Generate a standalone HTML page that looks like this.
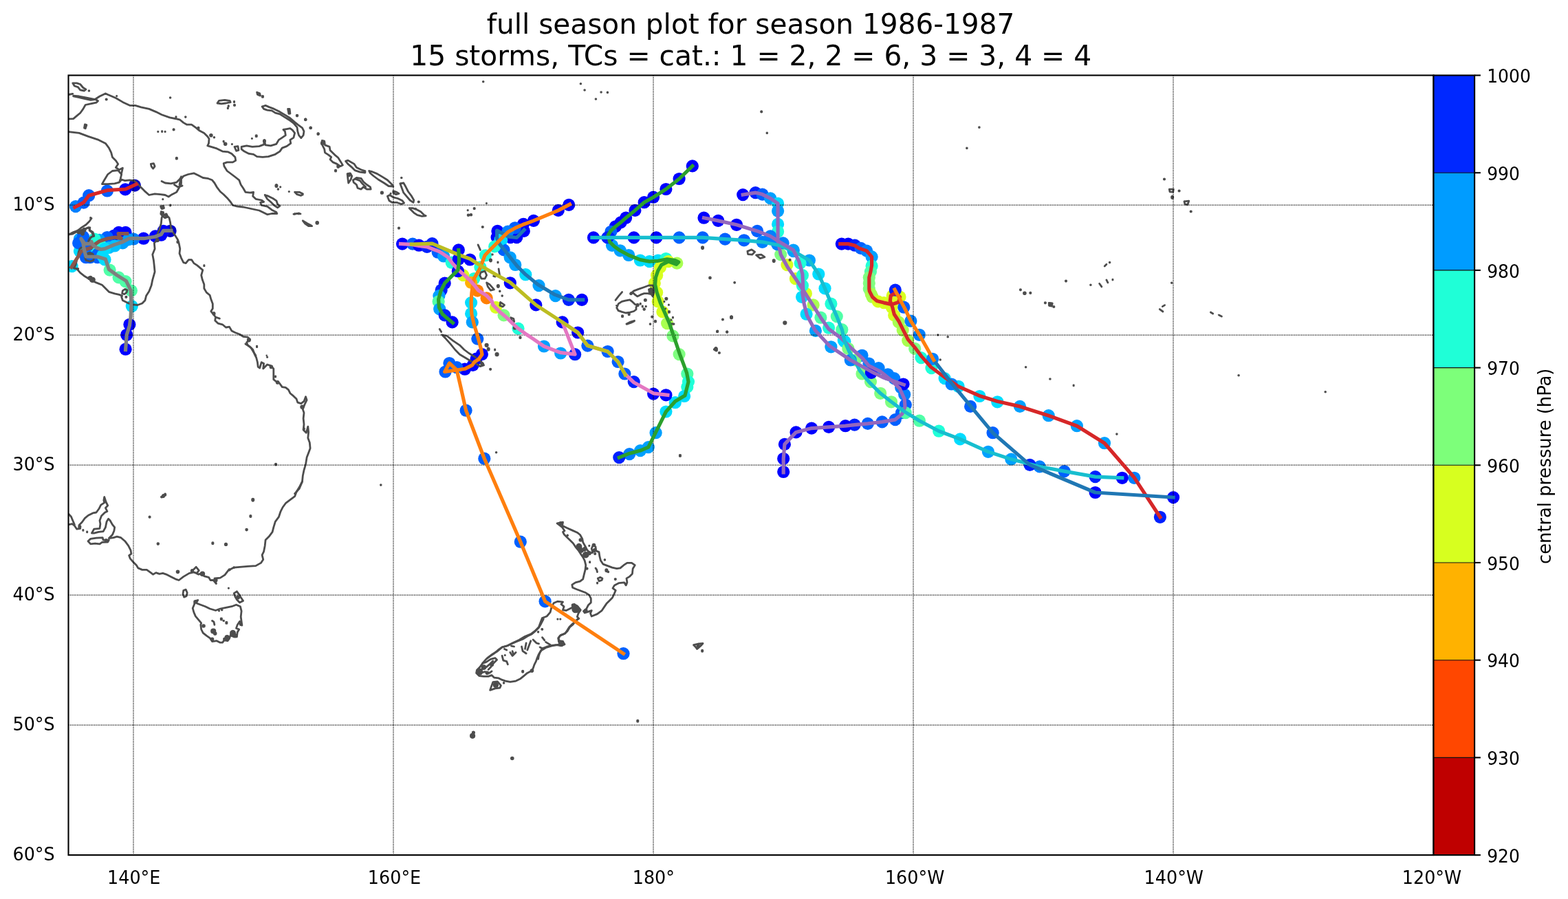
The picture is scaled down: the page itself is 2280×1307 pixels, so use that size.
<!DOCTYPE html>
<html lang="en">
<head>
<meta charset="utf-8">
<title>full season plot for season 1986-1987</title>
<style>
html,body{margin:0;padding:0;background:#fff;}
body{width:2280px;height:1307px;overflow:hidden;}
svg{display:block;}
text{font-family:"DejaVu Sans", "Liberation Sans", sans-serif;fill:#000;}
.t{font-size:41.15px;text-anchor:middle;}
.l{font-size:25.9px;}
.g{stroke:#000;stroke-width:1.25;stroke-dasharray:1.25 1.25;fill:none;}
.c{fill:none;stroke:#4d4d4d;stroke-width:2.8;stroke-linejoin:round;stroke-linecap:round;}
.k{fill:none;stroke-width:5.2;stroke-linejoin:round;stroke-linecap:square;}
</style>
</head>
<body>
<svg width="2280" height="1307" viewBox="0 0 2280 1307">
<rect x="0" y="0" width="2280" height="1307" fill="#fff"/>
<text class="t" transform="translate(1091.5 48.7) scale(0.987 1)">full season plot for season 1986-1987</text>
<text class="t" transform="translate(1091.7 94.7) scale(0.991 1)">15 storms, TCs = cat.: 1 = 2, 2 = 6, 3 = 3, 4 = 4</text>
<clipPath id="cp"><rect x="99.5" y="109.5" width="1985" height="1133.6"/></clipPath>
<g clip-path="url(#cp)">
<g><circle cx="761.8" cy="335.9" r="9.1" fill="#0000ff"/><circle cx="751.3" cy="345.1" r="9.1" fill="#0000ff"/><circle cx="742.2" cy="345.1" r="9.1" fill="#0000ff"/><circle cx="723.4" cy="335.9" r="9.1" fill="#0000ff"/><circle cx="722.6" cy="345.1" r="9.1" fill="#0000ff"/><circle cx="729.2" cy="349.2" r="9.1" fill="#00dcff"/><circle cx="732.6" cy="363.4" r="9.1" fill="#0060ff"/><circle cx="741.7" cy="374.3" r="9.1" fill="#00a0ff"/><circle cx="749.3" cy="385.0" r="9.1" fill="#00a0ff"/><circle cx="764.3" cy="399.2" r="9.1" fill="#00dcff"/><circle cx="783.5" cy="415.1" r="9.1" fill="#00a0ff"/><circle cx="807.7" cy="430.1" r="9.1" fill="#00a0ff"/><circle cx="826.9" cy="435.9" r="9.1" fill="#0020ff"/><circle cx="846.1" cy="435.9" r="9.1" fill="#0000ff"/></g>
<g><circle cx="827.2" cy="297.9" r="9.1" fill="#0000ff"/><circle cx="811.8" cy="305.9" r="9.1" fill="#0000ff"/><circle cx="775.9" cy="320.9" r="9.1" fill="#0000ff"/><circle cx="760.9" cy="325.9" r="9.1" fill="#0000ff"/><circle cx="748.8" cy="331.3" r="9.1" fill="#0060ff"/><circle cx="738.4" cy="336.7" r="9.1" fill="#0080ff"/><circle cx="727.6" cy="348.4" r="9.1" fill="#00dcff"/><circle cx="719.2" cy="358.4" r="9.1" fill="#20ffd8"/><circle cx="705.9" cy="371.3" r="9.1" fill="#20ffd8"/><circle cx="698.4" cy="388.4" r="9.1" fill="#20ffd8"/><circle cx="689.3" cy="405.1" r="9.1" fill="#20ffd8"/><circle cx="685.1" cy="440.1" r="9.1" fill="#00dcff"/><circle cx="685.1" cy="455.9" r="9.1" fill="#00dcff"/><circle cx="686.8" cy="468.4" r="9.1" fill="#00a0ff"/><circle cx="694.3" cy="492.6" r="9.1" fill="#0060ff"/><circle cx="700.9" cy="515.0" r="9.1" fill="#0000ff"/><circle cx="692.6" cy="521.7" r="9.1" fill="#0000ff"/><circle cx="687.6" cy="530.9" r="9.1" fill="#0000ff"/><circle cx="675.9" cy="536.7" r="9.1" fill="#0000ff"/><circle cx="664.2" cy="534.2" r="9.1" fill="#0060ff"/><circle cx="653.4" cy="528.0" r="9.1" fill="#0060ff"/><circle cx="647.5" cy="540.5" r="9.1" fill="#0060ff"/><circle cx="677.6" cy="596.7" r="9.1" fill="#0060ff"/><circle cx="704.3" cy="666.7" r="9.1" fill="#0060ff"/><circle cx="756.8" cy="787.7" r="9.1" fill="#0060ff"/><circle cx="792.6" cy="874.3" r="9.1" fill="#0060ff"/><circle cx="906.5" cy="950.2" r="9.1" fill="#0060ff"/></g>
<g><circle cx="1006.8" cy="241.4" r="9.1" fill="#0000ff"/><circle cx="987.6" cy="260.0" r="9.1" fill="#0000ff"/><circle cx="968.4" cy="275.0" r="9.1" fill="#0000ff"/><circle cx="950.1" cy="286.7" r="9.1" fill="#0000ff"/><circle cx="936.7" cy="294.2" r="9.1" fill="#0000ff"/><circle cx="923.4" cy="305.9" r="9.1" fill="#0000ff"/><circle cx="910.1" cy="316.7" r="9.1" fill="#0000ff"/><circle cx="902.6" cy="323.4" r="9.1" fill="#0000ff"/><circle cx="895.0" cy="329.3" r="9.1" fill="#0000ff"/><circle cx="888.4" cy="336.8" r="9.1" fill="#0060ff"/><circle cx="885.0" cy="345.1" r="9.1" fill="#0020ff"/><circle cx="890.0" cy="356.8" r="9.1" fill="#00a0ff"/><circle cx="901.7" cy="364.3" r="9.1" fill="#00a0ff"/><circle cx="914.2" cy="371.0" r="9.1" fill="#00a0ff"/><circle cx="930.9" cy="378.5" r="9.1" fill="#00dcff"/><circle cx="944.3" cy="380.1" r="9.1" fill="#00dcff"/><circle cx="956.8" cy="378.5" r="9.1" fill="#00dcff"/><circle cx="968.4" cy="376.0" r="9.1" fill="#20ffd8"/><circle cx="984.3" cy="382.6" r="9.1" fill="#a8ff50"/><circle cx="971.8" cy="380.1" r="9.1" fill="#d8ff20"/><circle cx="960.1" cy="388.5" r="9.1" fill="#d8ff20"/><circle cx="955.1" cy="400.2" r="9.1" fill="#d8ff20"/><circle cx="951.8" cy="411.8" r="9.1" fill="#d8ff20"/><circle cx="955.1" cy="425.2" r="9.1" fill="#d8ff20"/><circle cx="956.8" cy="438.4" r="9.1" fill="#d8ff20"/><circle cx="963.4" cy="453.4" r="9.1" fill="#d8ff20"/><circle cx="970.1" cy="470.1" r="9.1" fill="#a8ff50"/><circle cx="978.4" cy="488.4" r="9.1" fill="#80ff80"/><circle cx="987.6" cy="515.1" r="9.1" fill="#80ff80"/><circle cx="999.3" cy="543.5" r="9.1" fill="#50ffa8"/><circle cx="1001.0" cy="555.1" r="9.1" fill="#20ffd8"/><circle cx="999.3" cy="562.6" r="9.1" fill="#20ffd8"/><circle cx="995.1" cy="576.0" r="9.1" fill="#00dcff"/><circle cx="981.8" cy="585.2" r="9.1" fill="#00dcff"/><circle cx="968.4" cy="598.5" r="9.1" fill="#00dcff"/><circle cx="953.6" cy="629.2" r="9.1" fill="#00a0ff"/><circle cx="942.8" cy="650.1" r="9.1" fill="#00a0ff"/><circle cx="931.1" cy="655.1" r="9.1" fill="#00a0ff"/><circle cx="915.3" cy="660.1" r="9.1" fill="#0080ff"/><circle cx="900.3" cy="665.1" r="9.1" fill="#0020ff"/></g>
<g><circle cx="1223.8" cy="354.6" r="9.1" fill="#0000ff"/><circle cx="1233.4" cy="354.6" r="9.1" fill="#0000ff"/><circle cx="1243.0" cy="356.7" r="9.1" fill="#0020ff"/><circle cx="1251.7" cy="360.9" r="9.1" fill="#0060ff"/><circle cx="1260.1" cy="364.6" r="9.1" fill="#0080ff"/><circle cx="1267.6" cy="373.4" r="9.1" fill="#00a0ff"/><circle cx="1267.6" cy="386.7" r="9.1" fill="#20ffd8"/><circle cx="1265.9" cy="395.1" r="9.1" fill="#50ffa8"/><circle cx="1263.8" cy="403.4" r="9.1" fill="#80ff80"/><circle cx="1263.8" cy="411.7" r="9.1" fill="#80ff80"/><circle cx="1263.8" cy="420.1" r="9.1" fill="#80ff80"/><circle cx="1266.7" cy="427.6" r="9.1" fill="#a8ff50"/><circle cx="1268.5" cy="431.7" r="9.1" fill="#a8ff50"/><circle cx="1276.8" cy="438.4" r="9.1" fill="#d8ff20"/><circle cx="1285.2" cy="440.1" r="9.1" fill="#d8ff20"/><circle cx="1296.8" cy="442.6" r="9.1" fill="#d8ff20"/><circle cx="1308.5" cy="431.7" r="9.1" fill="#d8ff20"/><circle cx="1297.7" cy="430.0" r="9.1" fill="#d8ff20"/><circle cx="1296.8" cy="446.7" r="9.1" fill="#d8ff20"/><circle cx="1300.2" cy="458.4" r="9.1" fill="#d8ff20"/><circle cx="1306.8" cy="468.4" r="9.1" fill="#a8ff50"/><circle cx="1312.7" cy="480.1" r="9.1" fill="#a8ff50"/><circle cx="1320.2" cy="495.1" r="9.1" fill="#a8ff50"/><circle cx="1330.2" cy="506.8" r="9.1" fill="#80ff80"/><circle cx="1339.4" cy="520.1" r="9.1" fill="#20ffd8"/><circle cx="1354.4" cy="535.1" r="9.1" fill="#20ffd8"/><circle cx="1373.6" cy="550.1" r="9.1" fill="#00dcff"/><circle cx="1393.6" cy="561.8" r="9.1" fill="#00dcff"/><circle cx="1424.4" cy="576.0" r="9.1" fill="#00dcff"/><circle cx="1450.3" cy="584.3" r="9.1" fill="#00dcff"/><circle cx="1483.0" cy="590.9" r="9.1" fill="#00a0ff"/><circle cx="1524.7" cy="604.2" r="9.1" fill="#00a0ff"/><circle cx="1565.9" cy="619.2" r="9.1" fill="#00a0ff"/><circle cx="1606.0" cy="644.2" r="9.1" fill="#00a0ff"/><circle cx="1649.3" cy="694.8" r="9.1" fill="#0080ff"/><circle cx="1686.9" cy="751.8" r="9.1" fill="#0020ff"/></g>
<g><circle cx="1080.2" cy="283.1" r="9.1" fill="#0000ff"/><circle cx="1098.5" cy="280.1" r="9.1" fill="#0020ff"/><circle cx="1108.6" cy="282.6" r="9.1" fill="#0060ff"/><circle cx="1120.2" cy="288.4" r="9.1" fill="#00a0ff"/><circle cx="1131.1" cy="295.9" r="9.1" fill="#00dcff"/><circle cx="1131.1" cy="306.7" r="9.1" fill="#00a0ff"/><circle cx="1131.1" cy="325.9" r="9.1" fill="#00dcff"/><circle cx="1131.1" cy="336.8" r="9.1" fill="#20ffd8"/><circle cx="1135.2" cy="370.1" r="9.1" fill="#80ff80"/><circle cx="1144.4" cy="385.1" r="9.1" fill="#d8ff20"/><circle cx="1156.9" cy="405.2" r="9.1" fill="#d8ff20"/><circle cx="1171.9" cy="426.8" r="9.1" fill="#d8ff20"/><circle cx="1182.6" cy="443.4" r="9.1" fill="#a8ff50"/><circle cx="1193.4" cy="461.7" r="9.1" fill="#50ffa8"/><circle cx="1205.1" cy="476.7" r="9.1" fill="#20ffd8"/><circle cx="1226.8" cy="495.1" r="9.1" fill="#00dcff"/><circle cx="1253.5" cy="516.8" r="9.1" fill="#0080ff"/><circle cx="1263.5" cy="528.5" r="9.1" fill="#0080ff"/><circle cx="1277.6" cy="535.1" r="9.1" fill="#0080ff"/><circle cx="1291.0" cy="544.3" r="9.1" fill="#0080ff"/><circle cx="1300.2" cy="550.1" r="9.1" fill="#0080ff"/><circle cx="1310.2" cy="563.5" r="9.1" fill="#0080ff"/><circle cx="1315.2" cy="573.5" r="9.1" fill="#0080ff"/><circle cx="1316.8" cy="588.5" r="9.1" fill="#0060ff"/><circle cx="1311.0" cy="600.1" r="9.1" fill="#0060ff"/><circle cx="1301.8" cy="610.1" r="9.1" fill="#0060ff"/><circle cx="1282.7" cy="613.4" r="9.1" fill="#0060ff"/><circle cx="1261.8" cy="615.9" r="9.1" fill="#0060ff"/><circle cx="1242.6" cy="617.6" r="9.1" fill="#0020ff"/><circle cx="1229.3" cy="619.2" r="9.1" fill="#0000ff"/><circle cx="1205.1" cy="620.9" r="9.1" fill="#0000ff"/><circle cx="1180.1" cy="622.6" r="9.1" fill="#0000ff"/><circle cx="1157.5" cy="628.4" r="9.1" fill="#0000ff"/><circle cx="1140.9" cy="645.9" r="9.1" fill="#0000ff"/><circle cx="1139.2" cy="666.8" r="9.1" fill="#0000ff"/><circle cx="1139.2" cy="686.0" r="9.1" fill="#0000ff"/></g>
<g><circle cx="182.6" cy="337.9" r="9.1" fill="#0000ff"/><circle cx="172.6" cy="337.9" r="9.1" fill="#0000ff"/><circle cx="165.9" cy="342.5" r="9.1" fill="#0020ff"/><circle cx="155.9" cy="345.0" r="9.1" fill="#0060ff"/><circle cx="144.2" cy="348.8" r="9.1" fill="#00a0ff"/><circle cx="137.5" cy="347.5" r="9.1" fill="#20ffd8"/><circle cx="146.7" cy="357.5" r="9.1" fill="#20ffd8"/><circle cx="136.7" cy="363.4" r="9.1" fill="#20ffd8"/><circle cx="115.9" cy="365.0" r="9.1" fill="#00dcff"/><circle cx="104.6" cy="387.1" r="9.1" fill="#00dcff"/></g>
<g><circle cx="585.0" cy="354.6" r="9.1" fill="#0000ff"/><circle cx="600.0" cy="354.6" r="9.1" fill="#0060ff"/><circle cx="609.2" cy="356.7" r="9.1" fill="#0000ff"/><circle cx="620.9" cy="358.8" r="9.1" fill="#0020ff"/><circle cx="636.7" cy="366.7" r="9.1" fill="#0060ff"/><circle cx="645.1" cy="372.5" r="9.1" fill="#00a0ff"/><circle cx="656.7" cy="381.7" r="9.1" fill="#20ffd8"/><circle cx="673.4" cy="400.1" r="9.1" fill="#d8ff20"/><circle cx="685.1" cy="410.9" r="9.1" fill="#ffb000"/><circle cx="694.3" cy="422.6" r="9.1" fill="#ff8000"/><circle cx="707.6" cy="433.4" r="9.1" fill="#ff8000"/><circle cx="721.0" cy="446.8" r="9.1" fill="#d8ff20"/><circle cx="732.6" cy="458.4" r="9.1" fill="#80ff80"/><circle cx="753.5" cy="477.6" r="9.1" fill="#20ffd8"/><circle cx="791.0" cy="503.5" r="9.1" fill="#00a0ff"/><circle cx="815.2" cy="513.5" r="9.1" fill="#00a0ff"/><circle cx="836.1" cy="515.2" r="9.1" fill="#0020ff"/><circle cx="817.7" cy="468.4" r="9.1" fill="#0000ff"/><circle cx="921.7" cy="555.1" r="9.1" fill="#0020ff"/><circle cx="950.1" cy="572.6" r="9.1" fill="#0000ff"/><circle cx="968.4" cy="574.3" r="9.1" fill="#0000ff"/></g>
<g><circle cx="247.6" cy="335.8" r="9.1" fill="#0000c8"/><circle cx="237.6" cy="335.8" r="9.1" fill="#0000ff"/><circle cx="234.3" cy="341.7" r="9.1" fill="#0000ff"/><circle cx="225.9" cy="343.4" r="9.1" fill="#0000ff"/><circle cx="208.8" cy="346.7" r="9.1" fill="#0000ff"/><circle cx="194.2" cy="347.5" r="9.1" fill="#0080ff"/><circle cx="186.7" cy="348.4" r="9.1" fill="#00a0ff"/><circle cx="178.4" cy="353.4" r="9.1" fill="#00a0ff"/><circle cx="166.7" cy="357.5" r="9.1" fill="#00c0ff"/><circle cx="158.4" cy="360.0" r="9.1" fill="#00c0ff"/><circle cx="152.5" cy="361.7" r="9.1" fill="#00dcff"/><circle cx="115.9" cy="347.5" r="9.1" fill="#00a0ff"/><circle cx="120.9" cy="344.2" r="9.1" fill="#0060ff"/><circle cx="114.2" cy="353.4" r="9.1" fill="#0060ff"/><circle cx="125.0" cy="374.2" r="9.1" fill="#0060ff"/><circle cx="130.9" cy="374.2" r="9.1" fill="#0060ff"/><circle cx="141.7" cy="374.2" r="9.1" fill="#0060ff"/><circle cx="142.5" cy="369.2" r="9.1" fill="#0060ff"/><circle cx="127.5" cy="356.7" r="9.1" fill="#0060ff"/><circle cx="152.5" cy="377.5" r="9.1" fill="#00dcff"/><circle cx="149.2" cy="371.7" r="9.1" fill="#00dcff"/><circle cx="159.6" cy="392.6" r="9.1" fill="#50ffa8"/><circle cx="172.6" cy="403.4" r="9.1" fill="#50ffa8"/><circle cx="182.6" cy="409.2" r="9.1" fill="#50ffa8"/><circle cx="190.9" cy="422.6" r="9.1" fill="#50ffa8"/><circle cx="191.8" cy="445.1" r="9.1" fill="#00dcff"/><circle cx="188.4" cy="471.8" r="9.1" fill="#0000ff"/><circle cx="184.2" cy="486.8" r="9.1" fill="#0000ff"/><circle cx="182.6" cy="507.7" r="9.1" fill="#0000ff"/></g>
<g><circle cx="628.4" cy="354.2" r="9.1" fill="#0020ff"/><circle cx="683.4" cy="377.5" r="9.1" fill="#0000ff"/><circle cx="741.8" cy="411.3" r="9.1" fill="#0000ff"/><circle cx="779.3" cy="443.4" r="9.1" fill="#0000ff"/><circle cx="840.2" cy="483.5" r="9.1" fill="#0000ff"/><circle cx="854.4" cy="502.6" r="9.1" fill="#0060ff"/><circle cx="883.6" cy="511.0" r="9.1" fill="#0060ff"/><circle cx="898.6" cy="526.0" r="9.1" fill="#0060ff"/><circle cx="908.4" cy="543.5" r="9.1" fill="#0060ff"/></g>
<g><circle cx="863.0" cy="345.4" r="9.1" fill="#0000ff"/><circle cx="883.4" cy="345.4" r="9.1" fill="#0020ff"/><circle cx="921.7" cy="345.4" r="9.1" fill="#0000ff"/><circle cx="954.3" cy="345.4" r="9.1" fill="#0000ff"/><circle cx="987.6" cy="345.4" r="9.1" fill="#0060ff"/><circle cx="1021.8" cy="345.4" r="9.1" fill="#0060ff"/><circle cx="1054.3" cy="347.6" r="9.1" fill="#0060ff"/><circle cx="1081.9" cy="349.3" r="9.1" fill="#0060ff"/><circle cx="1108.6" cy="351.8" r="9.1" fill="#0080ff"/><circle cx="1130.2" cy="355.1" r="9.1" fill="#0080ff"/><circle cx="1153.6" cy="365.1" r="9.1" fill="#00a0ff"/><circle cx="1176.9" cy="378.5" r="9.1" fill="#00a0ff"/><circle cx="1190.3" cy="398.5" r="9.1" fill="#00dcff"/><circle cx="1199.5" cy="419.3" r="9.1" fill="#00dcff"/><circle cx="1208.4" cy="441.7" r="9.1" fill="#20ffd8"/><circle cx="1216.8" cy="460.1" r="9.1" fill="#50ffa8"/><circle cx="1224.3" cy="479.2" r="9.1" fill="#50ffa8"/><circle cx="1228.4" cy="496.8" r="9.1" fill="#00dcff"/><circle cx="1233.4" cy="506.8" r="9.1" fill="#80ff80"/><circle cx="1243.5" cy="523.5" r="9.1" fill="#80ff80"/><circle cx="1253.5" cy="543.5" r="9.1" fill="#80ff80"/><circle cx="1266.0" cy="555.1" r="9.1" fill="#80ff80"/><circle cx="1280.2" cy="571.8" r="9.1" fill="#80ff80"/><circle cx="1296.0" cy="584.3" r="9.1" fill="#80ff80"/><circle cx="1316.8" cy="600.1" r="9.1" fill="#50ffa8"/><circle cx="1336.9" cy="611.7" r="9.1" fill="#50ffa8"/><circle cx="1365.2" cy="626.7" r="9.1" fill="#20ffd8"/><circle cx="1396.1" cy="638.4" r="9.1" fill="#00dcff"/><circle cx="1436.9" cy="656.8" r="9.1" fill="#00a0ff"/><circle cx="1470.3" cy="667.6" r="9.1" fill="#00a0ff"/><circle cx="1511.7" cy="678.4" r="9.1" fill="#0080ff"/><circle cx="1547.6" cy="685.1" r="9.1" fill="#0060ff"/><circle cx="1592.6" cy="693.1" r="9.1" fill="#0020ff"/><circle cx="1631.8" cy="694.8" r="9.1" fill="#0000ff"/></g>
<g><circle cx="1383.6" cy="558.5" r="9.1" fill="#0080ff"/><circle cx="1411.1" cy="590.9" r="9.1" fill="#0060ff"/><circle cx="1443.6" cy="629.2" r="9.1" fill="#0060ff"/><circle cx="1497.5" cy="675.9" r="9.1" fill="#0020ff"/><circle cx="1592.6" cy="716.0" r="9.1" fill="#0000ff"/><circle cx="1706.1" cy="723.1" r="9.1" fill="#0000ff"/></g>
<g><circle cx="1301.8" cy="421.7" r="9.1" fill="#0020ff"/><circle cx="1314.3" cy="446.7" r="9.1" fill="#0060ff"/><circle cx="1324.4" cy="466.7" r="9.1" fill="#0080ff"/><circle cx="1336.9" cy="486.8" r="9.1" fill="#0080ff"/><circle cx="1356.0" cy="521.8" r="9.1" fill="#0080ff"/></g>
<g><circle cx="666.8" cy="363.4" r="9.1" fill="#0000ff"/><circle cx="666.8" cy="376.7" r="9.1" fill="#0000ff"/><circle cx="665.9" cy="394.2" r="9.1" fill="#0000ff"/><circle cx="646.7" cy="411.7" r="9.1" fill="#0000ff"/><circle cx="641.7" cy="421.7" r="9.1" fill="#0020ff"/><circle cx="638.4" cy="430.1" r="9.1" fill="#00a0ff"/><circle cx="637.6" cy="438.4" r="9.1" fill="#50ffa8"/><circle cx="639.2" cy="449.3" r="9.1" fill="#00a0ff"/><circle cx="646.7" cy="458.4" r="9.1" fill="#0020ff"/><circle cx="657.6" cy="468.4" r="9.1" fill="#0000ff"/></g>
<g><circle cx="110.0" cy="300.1" r="9.1" fill="#0080ff"/><circle cx="121.7" cy="294.6" r="9.1" fill="#0060ff"/><circle cx="129.2" cy="284.2" r="9.1" fill="#0060ff"/><circle cx="155.9" cy="277.5" r="9.1" fill="#0060ff"/><circle cx="182.2" cy="275.4" r="9.1" fill="#0000ff"/><circle cx="195.9" cy="269.6" r="9.1" fill="#0000c8"/></g>
<g><circle cx="1023.5" cy="316.7" r="9.1" fill="#0000ff"/><circle cx="1044.3" cy="320.9" r="9.1" fill="#0000ff"/><circle cx="1071.0" cy="326.8" r="9.1" fill="#0000ff"/><circle cx="1101.1" cy="335.9" r="9.1" fill="#0060ff"/><circle cx="1120.2" cy="343.4" r="9.1" fill="#0080ff"/><circle cx="1138.6" cy="353.4" r="9.1" fill="#0080ff"/><circle cx="1153.6" cy="363.5" r="9.1" fill="#00a0ff"/><circle cx="1163.6" cy="382.6" r="9.1" fill="#20ffd8"/><circle cx="1166.9" cy="400.2" r="9.1" fill="#20ffd8"/><circle cx="1166.9" cy="415.2" r="9.1" fill="#20ffd8"/><circle cx="1166.1" cy="431.8" r="9.1" fill="#00dcff"/><circle cx="1172.6" cy="456.7" r="9.1" fill="#00dcff"/><circle cx="1185.9" cy="480.9" r="9.1" fill="#00a0ff"/><circle cx="1208.4" cy="504.3" r="9.1" fill="#00a0ff"/><circle cx="1236.8" cy="523.5" r="9.1" fill="#0080ff"/><circle cx="1266.8" cy="541.8" r="9.1" fill="#0000ff"/><circle cx="1313.5" cy="558.5" r="9.1" fill="#0000ff"/></g>
<g class="c">
<path d="M100.0 172.9L106.7 172.6L111.7 168.4L116.7 164.2L120.9 158.4L124.2 152.5L131.7 150.9L140.0 149.2L142.5 146.7L138.4 144.2L145.0 140.0L153.4 135.9L156.7 137.5L168.4 142.5L178.4 148.4L189.2 153.4L196.8 153.4L205.1 155.9L216.8 158.4L226.8 162.6L235.1 166.7L246.8 170.9L256.8 172.9L261.8 174.2L266.8 178.4L271.8 181.2L278.5 181.2L285.2 185.9L290.2 190.1L296.8 193.4L301.8 198.4L304.0 201.8L303.5 208.4L301.8 211.8L306.8 213.4L315.2 215.9L323.5 220.1L331.9 220.9L336.9 223.4L341.9 228.4L342.7 233.4L338.5 235.9L330.2 235.9L325.2 237.6L326.0 241.8L330.2 248.5L336.9 253.5L343.5 258.5L347.7 261.8L350.2 268.5L353.6 273.5L356.9 279.3L363.6 280.2L368.6 279.3L367.7 285.2L371.9 289.3L380.2 291.0L383.6 293.5L378.6 294.3L380.2 298.5L388.6 300.2L395.3 305.2L401.9 308.5L402.8 310.5L395.3 310.5L388.6 311.8L383.6 309.3L376.9 306.0L365.2 303.5L353.6 301.0L345.2 300.2L338.5 298.5L335.2 293.5L330.2 287.7L325.2 282.7L320.2 278.5L315.2 271.8L311.9 266.0L308.5 261.8L301.8 259.3L295.2 258.5L288.5 255.1L281.8 251.8L273.5 253.5L266.8 256.0L263.5 260.1L263.5 266.8L260.1 273.5L256.8 279.3L250.1 282.7L245.1 286.0L240.1 283.5L233.5 282.7L225.1 281.8L216.8 283.5L210.1 277.6L205.1 272.6L200.1 266.8L195.1 262.6L188.4 261.8L181.7 262.6L176.7 261.0L173.4 265.1L166.7 266.8L156.7 267.6L148.4 267.6L151.7 261.8L156.7 253.5L163.4 248.5L171.7 247.6L176.7 253.5L175.1 260.1L173.4 265.1"/>
<path d="M100.0 191.7L115.0 193.4L128.4 198.4L143.4 203.4L153.4 208.4L158.4 215.1L161.7 221.8L163.4 228.4L168.4 233.4L171.7 238.4L168.4 243.5L173.4 246.8L178.4 244.3L176.7 251.8"/>
<path d="M235.1 263.5L240.1 266.0L248.5 266.8L256.8 265.1L261.8 260.1L263.5 256.8L261.0 268.5L265.1 270.1L258.5 271.8L253.5 268.5"/>
<path d="M105.8 120.9L111.7 120.9L116.7 122.5L120.9 127.5L125.0 130.0L122.5 132.0L116.7 130.9L113.4 126.7L108.3 125.0L105.8 120.9"/>
<path d="M100.0 137.5L105.8 136.4"/>
<path d="M106.7 139.2L115.0 140.0L123.4 141.7L133.4 143.7L138.4 144.7L131.7 145.4L123.4 143.7L115.0 141.7L106.7 140.0L106.7 139.2"/>
<path d="M316.0 150.0L318.5 146.4L326.9 145.4L334.4 146.7L335.2 148.7L328.5 150.0L321.9 150.9L316.0 150.0"/>
<path d="M381.1 155.0L386.1 153.4L391.9 155.9L398.6 158.4L406.9 162.6L415.3 167.6L421.9 171.7L428.6 177.6L433.6 181.7L439.5 185.9L442.0 190.9L441.1 196.7L437.8 200.6L434.5 196.7L432.8 190.9L432.0 185.1L426.9 179.2L420.3 174.2L413.6 170.1L406.9 165.9L400.3 164.2L395.3 160.9L388.6 160.1L383.6 158.4L381.1 155.0"/>
<path d="M351.1 213.4L358.6 211.8L366.9 213.4L376.9 212.6L383.6 210.1L384.4 205.1L386.1 210.9L393.6 211.8L401.9 209.3L405.3 203.4L410.3 200.1L415.3 196.7L414.4 190.9L411.9 188.4L416.9 187.6L421.9 186.7L425.3 189.2L428.6 193.4L426.9 200.1L421.9 203.4L422.8 208.4L416.9 212.6L410.3 215.1L406.9 220.1L400.3 224.3L390.3 227.6L381.9 228.4L373.6 227.6L368.6 224.3L361.9 223.4L355.2 220.1L351.1 216.8L351.1 213.4"/>
<path d="M385.2 283.5L390.3 285.2L396.9 288.5L401.9 291.8L403.6 296.8L406.9 299.3L403.6 301.8L398.6 298.5L393.6 293.5L388.6 289.3L385.2 283.5"/>
<path d="M428.6 279.3L435.3 279.3L440.3 281.8L437.8 284.3L432.0 282.7L428.6 279.3"/>
<path d="M341.0 213.4L346.0 212.6L346.9 218.4L343.5 219.3L341.0 213.4"/>
<path d="M219.3 238.4L223.4 237.6L225.1 241.8L222.6 245.1L220.1 241.8L219.3 238.4"/>
<path d="M418.6 158.4L421.1 158.4L421.9 165.1L419.9 165.4L418.6 158.4"/>
<path d="M123.4 180.9L125.9 181.7L124.2 186.7L122.5 185.9L123.4 180.9"/>
<path d="M373.6 134.2L377.7 135.9L378.6 139.2L374.4 137.5L373.6 134.2"/>
<path d="M233.5 300.2L237.6 299.3L238.5 302.7L235.1 303.5L233.5 300.2"/>
<path d="M234.3 307.7L237.6 308.5L236.8 312.7L241.8 311.8L244.3 315.2L240.1 316.8L236.8 314.3L233.8 311.0L234.3 307.7"/>
<path d="M127.6 132.0a1.8 1.8 0 1 0 3.6 0a1.8 1.8 0 1 0 -3.6 0zM168.1 139.5a1.6 1.6 0 1 0 3.2 0a1.6 1.6 0 1 0 -3.2 0zM152.6 144.5a2.1 2.1 0 1 0 4.2 0a2.1 2.1 0 1 0 -4.2 0zM245.8 142.0a1.8 1.8 0 1 0 3.6 0a1.8 1.8 0 1 0 -3.6 0zM268.0 170.1a1.8 1.8 0 1 0 3.6 0a1.8 1.8 0 1 0 -3.6 0zM254.5 170.1a1.5 1.5 0 1 0 2.9 0a1.5 1.5 0 1 0 -2.9 0zM286.5 186.2a2.0 2.0 0 1 0 3.9 0a2.0 2.0 0 1 0 -3.9 0zM250.5 188.4a2.1 2.1 0 1 0 4.2 0a2.1 2.1 0 1 0 -4.2 0zM228.2 191.4a1.6 1.6 0 1 0 3.2 0a1.6 1.6 0 1 0 -3.2 0zM234.2 191.1a1.5 1.5 0 1 0 2.9 0a1.5 1.5 0 1 0 -2.9 0zM238.5 191.4a1.6 1.6 0 1 0 3.2 0a1.6 1.6 0 1 0 -3.2 0zM304.1 196.7a2.8 2.8 0 1 0 5.6 0a2.8 2.8 0 1 0 -5.6 0zM309.6 199.7a1.8 1.8 0 1 0 3.6 0a1.8 1.8 0 1 0 -3.6 0zM254.9 230.1a2.0 2.0 0 1 0 3.9 0a2.0 2.0 0 1 0 -3.9 0zM235.2 289.7a1.6 1.6 0 1 0 3.2 0a1.6 1.6 0 1 0 -3.2 0zM246.2 298.5a1.5 1.5 0 1 0 2.9 0a1.5 1.5 0 1 0 -2.9 0zM339.1 148.0a1.5 1.5 0 1 0 2.9 0a1.5 1.5 0 1 0 -2.9 0zM338.9 152.9a2.1 2.1 0 1 0 4.2 0a2.1 2.1 0 1 0 -4.2 0zM330.8 154.2a1.5 1.5 0 1 0 2.9 0a1.5 1.5 0 1 0 -2.9 0zM329.9 157.2a1.5 1.5 0 1 0 2.9 0a1.5 1.5 0 1 0 -2.9 0zM324.9 209.3a2.8 2.8 0 1 0 5.6 0a2.8 2.8 0 1 0 -5.6 0zM323.7 205.6a1.5 1.5 0 1 0 2.9 0a1.5 1.5 0 1 0 -2.9 0zM335.8 209.6a1.6 1.6 0 1 0 3.2 0a1.6 1.6 0 1 0 -3.2 0zM370.8 197.6a2.0 2.0 0 1 0 3.9 0a2.0 2.0 0 1 0 -3.9 0zM364.8 201.3a1.6 1.6 0 1 0 3.2 0a1.6 1.6 0 1 0 -3.2 0zM380.0 140.4a2.0 2.0 0 1 0 3.9 0a2.0 2.0 0 1 0 -3.9 0zM429.7 168.1a2.3 2.3 0 1 0 4.6 0a2.3 2.3 0 1 0 -4.6 0zM442.3 173.7a2.1 2.1 0 1 0 4.2 0a2.1 2.1 0 1 0 -4.2 0zM449.5 185.9a2.1 2.1 0 1 0 4.2 0a2.1 2.1 0 1 0 -4.2 0zM460.7 194.6a2.1 2.1 0 1 0 4.2 0a2.1 2.1 0 1 0 -4.2 0zM465.9 208.4a2.8 2.8 0 1 0 5.6 0a2.8 2.8 0 1 0 -5.6 0zM399.5 270.1a2.5 2.5 0 1 0 4.9 0a2.5 2.5 0 1 0 -4.9 0zM406.1 271.8a1.6 1.6 0 1 0 3.2 0a1.6 1.6 0 1 0 -3.2 0zM402.6 275.1a1.8 1.8 0 1 0 3.6 0a1.8 1.8 0 1 0 -3.6 0zM418.7 278.5a1.6 1.6 0 1 0 3.2 0a1.6 1.6 0 1 0 -3.2 0zM426.8 311.0a1.8 1.8 0 1 0 3.6 0a1.8 1.8 0 1 0 -3.6 0zM432.3 310.5a2.1 2.1 0 1 0 4.2 0a2.1 2.1 0 1 0 -4.2 0zM382.0 205.1a2.5 2.5 0 1 0 4.9 0a2.5 2.5 0 1 0 -4.9 0zM130.3 316.8a1.5 1.5 0 1 0 2.9 0a1.5 1.5 0 1 0 -2.9 0z" fill="#4d4d4d" stroke="none"/>
<path d="M468.4 204.3L471.7 205.1L472.5 210.9L479.2 213.4L480.0 218.4L486.7 225.1L491.7 229.3L495.9 235.9L498.4 240.1L495.0 241.8L490.0 238.4L484.2 235.9L480.0 231.8L481.7 228.4L477.5 225.1L472.5 221.8L471.7 216.8L469.2 211.8L467.5 207.6L468.4 204.3"/>
<path d="M502.6 234.3L505.9 233.1L515.1 238.4L518.4 243.5L525.1 246.8L530.9 248.5L530.9 251.0L523.4 250.1L515.9 247.6L510.9 242.6L505.9 238.4L502.6 234.3"/>
<path d="M505.1 252.6L509.2 251.8L511.7 256.0L510.1 261.0L506.7 266.0L505.9 260.1L505.1 252.6"/>
<path d="M513.4 261.8L518.4 258.5L525.1 259.3L528.4 264.3L533.4 268.5L538.4 271.8L539.2 275.1L533.4 275.1L528.4 271.8L525.1 275.1L520.1 273.5L518.4 268.5L514.2 265.1L513.4 261.8"/>
<path d="M516.7 260.1L523.4 262.6L526.7 266.8L531.7 271.8"/>
<path d="M536.7 248.5L540.1 249.3L548.4 252.6L556.8 257.6L563.4 261.8L569.3 267.6L571.8 271.0L565.1 270.5L558.4 266.0L550.1 261.0L543.4 256.0L538.4 251.8L536.7 248.5"/>
<path d="M571.8 277.6L576.8 279.3L580.1 281.5L575.9 282.7L571.8 280.2L571.8 277.6"/>
<path d="M581.8 266.8L586.8 266.0L590.1 271.8L593.5 278.5L598.5 285.2L601.8 291.0L601.0 294.3L596.0 291.0L591.0 285.2L586.8 280.2L584.3 273.5L581.8 266.8"/>
<path d="M563.4 285.2L566.8 283.5L571.8 286.8L578.4 288.5L585.1 291.8L587.6 295.2L583.5 296.8L576.8 294.3L570.1 294.3L565.9 291.8L563.4 285.2"/>
<path d="M595.1 302.7L600.1 302.7L605.1 304.3L611.8 307.7L616.8 312.7L619.3 313.8L613.5 314.3L606.8 312.7L601.8 309.3L598.5 306.0L595.1 302.7"/>
<path d="M678.7 312.8a2.3 2.3 0 1 0 4.6 0a2.3 2.3 0 1 0 -4.6 0zM682.6 312.3a2.3 2.3 0 1 0 4.6 0a2.3 2.3 0 1 0 -4.6 0zM441.9 173.9a2.3 2.3 0 1 0 4.6 0a2.3 2.3 0 1 0 -4.6 0zM449.4 185.9a2.3 2.3 0 1 0 4.6 0a2.3 2.3 0 1 0 -4.6 0zM460.6 194.6a2.0 2.0 0 1 0 3.9 0a2.0 2.0 0 1 0 -3.9 0zM489.3 241.8a2.5 2.5 0 1 0 4.9 0a2.5 2.5 0 1 0 -4.9 0zM486.1 248.1a2.0 2.0 0 1 0 3.9 0a2.0 2.0 0 1 0 -3.9 0zM582.0 258.5a1.8 1.8 0 1 0 3.6 0a1.8 1.8 0 1 0 -3.6 0zM552.8 280.2a2.6 2.6 0 1 0 5.2 0a2.6 2.6 0 1 0 -5.2 0zM566.5 281.3a1.6 1.6 0 1 0 3.2 0a1.6 1.6 0 1 0 -3.2 0zM606.7 293.5a2.1 2.1 0 1 0 4.2 0a2.1 2.1 0 1 0 -4.2 0zM700.9 118.8a1.8 1.8 0 1 0 3.6 0a1.8 1.8 0 1 0 -3.6 0zM705.8 295.5a1.6 1.6 0 1 0 3.2 0a1.6 1.6 0 1 0 -3.2 0zM687.6 303.2a2.1 2.1 0 1 0 4.2 0a2.1 2.1 0 1 0 -4.2 0zM678.6 305.7a1.6 1.6 0 1 0 3.2 0a1.6 1.6 0 1 0 -3.2 0zM438.5 282.7a1.5 1.5 0 1 0 2.9 0a1.5 1.5 0 1 0 -2.9 0zM467.6 206.8a2.5 2.5 0 1 0 4.9 0a2.5 2.5 0 1 0 -4.9 0zM505.1 254.3a2.5 2.5 0 1 0 4.9 0a2.5 2.5 0 1 0 -4.9 0zM602.5 303.5a1.8 1.8 0 1 0 3.6 0a1.8 1.8 0 1 0 -3.6 0z" fill="#4d4d4d" stroke="none"/>
<path d="M1086.9 365.2L1092.9 362.9L1097.6 366.2L1093.6 370.2L1087.6 369.6L1086.9 365.2"/>
<path d="M1099.6 370.9L1106.9 370.2L1111.9 373.6L1105.3 375.6L1099.6 370.9"/>
<path d="M842.6 121.7a1.8 1.8 0 1 0 3.6 0a1.8 1.8 0 1 0 -3.6 0zM848.3 131.0a1.8 1.8 0 1 0 3.6 0a1.8 1.8 0 1 0 -3.6 0zM872.3 134.0a1.8 1.8 0 1 0 3.6 0a1.8 1.8 0 1 0 -3.6 0zM881.6 134.4a1.8 1.8 0 1 0 3.6 0a1.8 1.8 0 1 0 -3.6 0zM864.6 144.0a1.8 1.8 0 1 0 3.6 0a1.8 1.8 0 1 0 -3.6 0zM1105.1 162.4a2.1 2.1 0 1 0 4.2 0a2.1 2.1 0 1 0 -4.2 0zM1113.5 193.4a1.8 1.8 0 1 0 3.6 0a1.8 1.8 0 1 0 -3.6 0zM1422.1 185.1a1.8 1.8 0 1 0 3.6 0a1.8 1.8 0 1 0 -3.6 0zM1404.1 215.4a1.8 1.8 0 1 0 3.6 0a1.8 1.8 0 1 0 -3.6 0zM1019.1 360.2a2.5 2.5 0 1 0 4.9 0a2.5 2.5 0 1 0 -4.9 0zM1030.4 403.9a2.1 2.1 0 1 0 4.2 0a2.1 2.1 0 1 0 -4.2 0zM1066.4 410.9a1.8 1.8 0 1 0 3.6 0a1.8 1.8 0 1 0 -3.6 0zM1049.1 464.6a1.8 1.8 0 1 0 3.6 0a1.8 1.8 0 1 0 -3.6 0zM1061.1 461.3a2.5 2.5 0 1 0 4.9 0a2.5 2.5 0 1 0 -4.9 0zM1138.2 469.3a3.1 3.1 0 1 0 6.2 0a3.1 3.1 0 1 0 -6.2 0zM1041.1 481.7a2.1 2.1 0 1 0 4.2 0a2.1 2.1 0 1 0 -4.2 0zM1055.1 482.7a2.1 2.1 0 1 0 4.2 0a2.1 2.1 0 1 0 -4.2 0zM1036.8 508.0a1.8 1.8 0 1 0 3.6 0a1.8 1.8 0 1 0 -3.6 0zM1040.1 509.7a1.8 1.8 0 1 0 3.6 0a1.8 1.8 0 1 0 -3.6 0zM1043.8 513.0a2.1 2.1 0 1 0 4.2 0a2.1 2.1 0 1 0 -4.2 0zM1547.9 408.6a2.1 2.1 0 1 0 4.2 0a2.1 2.1 0 1 0 -4.2 0zM1481.8 421.3a2.1 2.1 0 1 0 4.2 0a2.1 2.1 0 1 0 -4.2 0zM1487.1 426.3a2.8 2.8 0 1 0 5.6 0a2.8 2.8 0 1 0 -5.6 0zM1496.2 425.9a2.1 2.1 0 1 0 4.2 0a2.1 2.1 0 1 0 -4.2 0zM1517.8 440.3a2.1 2.1 0 1 0 4.2 0a2.1 2.1 0 1 0 -4.2 0zM1524.2 442.6a3.1 3.1 0 1 0 6.2 0a3.1 3.1 0 1 0 -6.2 0zM1530.2 446.0a2.1 2.1 0 1 0 4.2 0a2.1 2.1 0 1 0 -4.2 0zM1362.0 487.0a1.8 1.8 0 1 0 3.6 0a1.8 1.8 0 1 0 -3.6 0zM1376.4 489.7a1.8 1.8 0 1 0 3.6 0a1.8 1.8 0 1 0 -3.6 0zM1365.4 523.0a1.8 1.8 0 1 0 3.6 0a1.8 1.8 0 1 0 -3.6 0zM1489.8 533.7a1.8 1.8 0 1 0 3.6 0a1.8 1.8 0 1 0 -3.6 0zM1122.8 379.2a2.5 2.5 0 1 0 4.9 0a2.5 2.5 0 1 0 -4.9 0zM1146.5 377.9a2.1 2.1 0 1 0 4.2 0a2.1 2.1 0 1 0 -4.2 0z" fill="#4d4d4d" stroke="none"/>
<path d="M100.0 340.9L106.7 337.5L113.4 335.0L118.4 330.9L125.0 326.7L130.0 321.7L133.0 317.5"/>
<path d="M115.0 335.9L121.7 333.4L129.2 330.9L130.9 335.0L135.0 337.5L136.7 342.5L131.7 345.0L129.2 350.0"/>
<path d="M105.0 388.4L111.7 390.9L116.7 396.7L123.4 401.8L130.0 405.9L140.0 410.9L148.4 414.3L153.4 419.3L158.4 424.3L166.7 426.8L173.4 428.4L177.6 430.1L176.7 431.8L178.4 436.8L185.1 440.1L191.8 442.6L200.1 443.5L206.8 441.0L210.9 436.8L212.6 430.1L216.8 423.4L220.1 415.1L221.8 406.8L225.1 395.1L224.3 386.7L223.4 378.4L221.8 370.1L225.1 361.7L224.3 353.4L228.4 348.4L228.4 341.7L231.8 333.4L234.3 325.0L235.1 316.7L236.8 312.5L241.8 313.3L246.0 316.7L247.6 323.4L248.5 330.0L250.1 335.9L254.3 341.7L258.5 348.4L260.1 353.4L261.8 361.7L261.0 368.4L263.5 375.1L266.8 381.7L270.2 382.6L274.3 377.6L278.5 377.6L281.8 382.6L286.8 385.9L291.8 390.1L294.8 392.6L292.7 400.1L294.3 406.8L296.8 413.4L296.8 419.3L300.2 425.1L305.2 429.3L306.8 435.1L309.3 441.8L309.3 448.5L306.8 452.6L310.2 456.8L313.5 461.0L312.7 466.0L316.9 470.1L323.5 471.8L328.5 476.0L333.5 475.1L336.9 481.0L341.9 483.5L348.5 486.0L353.6 489.3L360.2 490.2L363.6 493.5L358.6 497.7L360.2 501.8L365.2 506.0L368.6 511.8L371.9 516.8"/>
<path d="M177.6 426.8L178.4 422.6L181.7 420.4L185.1 421.8L184.2 425.1L180.9 427.6L177.6 426.8"/>
<path d="M440.3 320.9L447.0 325.0L452.0 327.5L453.6 328.7L448.6 328.7L443.6 325.0L440.3 320.9"/>
<path d="M313.5 461.0L319.4 463.1"/>
<path d="M426.9 311.3L432.0 310.3L437.0 310.8"/>
<path d="M233.5 301.7a2.5 2.5 0 1 0 4.9 0a2.5 2.5 0 1 0 -4.9 0zM233.2 310.3a2.8 2.8 0 1 0 5.6 0a2.8 2.8 0 1 0 -5.6 0zM239.0 312.5a2.5 2.5 0 1 0 4.9 0a2.5 2.5 0 1 0 -4.9 0zM295.4 386.2a1.5 1.5 0 1 0 2.9 0a1.5 1.5 0 1 0 -2.9 0zM372.1 504.0a1.5 1.5 0 1 0 2.9 0a1.5 1.5 0 1 0 -2.9 0zM458.4 323.9a2.8 2.8 0 1 0 5.6 0a2.8 2.8 0 1 0 -5.6 0zM386.4 516.8a1.3 1.3 0 1 0 2.6 0a1.3 1.3 0 1 0 -2.6 0zM130.1 406.8a4.1 4.1 0 1 0 8.2 0a4.1 4.1 0 1 0 -8.2 0zM127.2 404.3a2.8 2.8 0 1 0 5.6 0a2.8 2.8 0 1 0 -5.6 0zM226.8 349.2a2.5 2.5 0 1 0 4.9 0a2.5 2.5 0 1 0 -4.9 0zM256.5 351.7a2.0 2.0 0 1 0 3.9 0a2.0 2.0 0 1 0 -3.9 0zM308.6 456.0a2.5 2.5 0 1 0 4.9 0a2.5 2.5 0 1 0 -4.9 0zM111.6 390.9a1.8 1.8 0 1 0 3.6 0a1.8 1.8 0 1 0 -3.6 0zM181.3 431.8a2.1 2.1 0 1 0 4.2 0a2.1 2.1 0 1 0 -4.2 0zM358.8 494.3a3.1 3.1 0 1 0 6.2 0a3.1 3.1 0 1 0 -6.2 0z" fill="#4d4d4d" stroke="none"/>
<path d="M356.9 500.0L363.6 504.2L367.7 508.3L370.2 515.0L372.7 520.0L374.4 526.7L375.2 533.4L377.7 535.0L380.2 526.7L383.6 528.4L382.7 535.9L388.6 530.0L393.6 531.7L397.8 535.9L397.8 543.4L397.8 551.7L401.9 555.0L406.1 556.7L410.3 562.6L415.3 563.4L419.4 566.7L421.9 571.7L426.9 575.9L431.1 580.1L432.8 585.1L437.8 586.7L442.0 583.4L444.5 576.7L446.1 581.7L442.8 588.4L440.3 595.1L442.0 600.1L441.1 608.4L442.0 616.8L441.1 625.1L445.3 629.3L447.8 620.1L448.6 628.4L447.8 636.8L450.3 643.5L451.1 651.8L448.6 658.5L446.1 665.1L444.5 675.1L442.0 683.5L440.3 691.8L439.5 700.2L435.3 710.2L428.6 717.7"/>
<path d="M372.1 503.7a1.5 1.5 0 1 0 2.9 0a1.5 1.5 0 1 0 -2.9 0zM387.0 519.2a1.6 1.6 0 1 0 3.2 0a1.6 1.6 0 1 0 -3.2 0zM399.1 675.1a2.0 2.0 0 1 0 3.9 0a2.0 2.0 0 1 0 -3.9 0zM399.1 547.5a1.5 1.5 0 1 0 2.9 0a1.5 1.5 0 1 0 -2.9 0zM238.8 717.7a1.3 1.3 0 1 0 2.6 0a1.3 1.3 0 1 0 -2.6 0zM391.6 533.4a2.8 2.8 0 1 0 5.6 0a2.8 2.8 0 1 0 -5.6 0zM400.8 555.9a2.8 2.8 0 1 0 5.6 0a2.8 2.8 0 1 0 -5.6 0zM436.3 591.7a3.1 3.1 0 1 0 6.2 0a3.1 3.1 0 1 0 -6.2 0zM439.8 623.4a2.1 2.1 0 1 0 4.2 0a2.1 2.1 0 1 0 -4.2 0z" fill="#4d4d4d" stroke="none"/>
<path d="M439.5 700.0L436.1 706.7L431.1 715.0L428.6 721.7L421.9 726.7L415.3 731.7L411.1 737.5L407.8 744.2L405.3 751.7L400.3 758.4L397.8 766.7L396.1 773.4L391.1 780.1L386.1 785.1L385.2 793.4L383.6 801.8L381.1 806.8L382.7 813.4L379.4 818.4L371.9 822.6L360.2 823.4L348.5 824.3L340.2 825.1L331.9 829.3L326.9 835.9L320.2 840.1L311.9 841.0L314.4 848.5L310.2 843.5L306.0 843.5L303.5 839.3L296.8 837.6L293.5 833.4L288.5 835.1L283.5 832.6L278.5 830.9L285.2 824.3L289.3 829.3L286.0 833.4L281.8 831.8L275.2 833.4L266.8 838.4L260.1 843.5L255.1 841.8L248.5 838.4L241.8 835.1L236.8 833.4L231.8 834.3L226.8 832.6L222.6 835.1L219.3 832.6L213.4 828.4L206.8 828.4L200.9 825.9L198.4 821.8L193.4 816.8L189.2 811.8L187.6 807.6L190.9 805.1L190.1 800.1L186.7 793.4L181.7 786.7L175.9 781.7L170.1 780.1L165.1 781.7L158.4 782.6L163.4 777.6L165.9 771.7L166.7 766.7L163.4 762.6L160.1 756.7L157.6 754.2L155.1 758.4L153.4 766.7L150.1 772.6L143.4 773.4L136.7 775.1L133.4 775.1L136.7 769.2L145.0 768.4L145.9 761.7L145.0 756.7L147.5 750.0L152.6 745.0L155.9 743.4L153.4 738.4L156.7 735.0L154.2 730.0L151.7 722.5L150.9 727.5L151.7 730.9L146.7 734.2L144.2 739.2L140.0 745.0L135.0 745.9L128.4 749.2L123.4 753.4L119.2 759.2L115.0 763.4L116.7 768.4L111.7 769.2L108.3 764.2L105.0 761.7L100.0 762.6"/>
<path d="M100.0 747.5L103.3 750.9L105.8 756.7L108.3 762.6"/>
<path d="M128.0 786.7L131.7 783.4L140.0 782.1L149.2 781.7L150.1 785.1L158.4 785.1L156.7 788.1L148.4 788.4L145.0 790.9L138.4 790.1L131.7 790.9L128.0 786.7"/>
<path d="M266.8 858.5L270.2 857.1L272.2 861.8L271.0 866.8L267.6 868.1L266.0 863.5L266.8 858.5"/>
<path d="M340.2 862.6L344.4 859.8L347.7 864.3L350.2 868.5L353.6 873.5L348.5 876.0L344.4 871.8L341.9 867.6L340.2 862.6"/>
<path d="M235.2 720.9a2.5 2.5 0 1 0 4.9 0a2.5 2.5 0 1 0 -4.9 0zM233.0 722.5a2.1 2.1 0 1 0 4.2 0a2.1 2.1 0 1 0 -4.2 0zM238.2 719.2a2.0 2.0 0 1 0 3.9 0a2.0 2.0 0 1 0 -3.9 0zM215.5 751.7a2.1 2.1 0 1 0 4.2 0a2.1 2.1 0 1 0 -4.2 0zM227.5 790.6a2.3 2.3 0 1 0 4.6 0a2.3 2.3 0 1 0 -4.6 0zM365.3 726.7a2.5 2.5 0 1 0 4.9 0a2.5 2.5 0 1 0 -4.9 0zM362.4 750.5a2.0 2.0 0 1 0 3.9 0a2.0 2.0 0 1 0 -3.9 0zM356.3 770.1a2.3 2.3 0 1 0 4.6 0a2.3 2.3 0 1 0 -4.6 0zM307.4 789.7a2.0 2.0 0 1 0 3.9 0a2.0 2.0 0 1 0 -3.9 0zM325.9 791.4a2.6 2.6 0 1 0 5.2 0a2.6 2.6 0 1 0 -5.2 0zM255.7 831.3a2.8 2.8 0 1 0 5.6 0a2.8 2.8 0 1 0 -5.6 0zM125.2 773.4a1.5 1.5 0 1 0 2.9 0a1.5 1.5 0 1 0 -2.9 0zM119.4 770.9a1.5 1.5 0 1 0 2.9 0a1.5 1.5 0 1 0 -2.9 0zM290.6 834.3a3.8 3.8 0 1 0 7.6 0a3.8 3.8 0 1 0 -7.6 0zM310.4 843.5a3.1 3.1 0 1 0 6.2 0a3.1 3.1 0 1 0 -6.2 0zM330.8 855.1a1.6 1.6 0 1 0 3.2 0a1.6 1.6 0 1 0 -3.2 0zM276.9 830.1a2.5 2.5 0 1 0 4.9 0a2.5 2.5 0 1 0 -4.9 0zM342.9 868.5a3.1 3.1 0 1 0 6.2 0a3.1 3.1 0 1 0 -6.2 0zM113.4 765.9a2.5 2.5 0 1 0 4.9 0a2.5 2.5 0 1 0 -4.9 0zM151.8 785.9a2.5 2.5 0 1 0 4.9 0a2.5 2.5 0 1 0 -4.9 0zM331.4 828.4a2.1 2.1 0 1 0 4.2 0a2.1 2.1 0 1 0 -4.2 0zM338.4 825.1a1.8 1.8 0 1 0 3.6 0a1.8 1.8 0 1 0 -3.6 0z" fill="#4d4d4d" stroke="none"/>
<path d="M282.7 874.2L287.7 872.5L285.2 876.7L291.8 879.2L298.5 881.7L305.2 885.0L313.5 887.5L320.2 885.0L328.5 883.4L336.9 881.7L343.5 879.2L349.4 881.7L351.1 888.4L350.2 896.7L351.1 903.4L351.9 909.2L349.4 908.4L348.5 903.4L345.2 908.4L343.5 913.4L347.7 915.0L345.2 919.2L344.4 925.9L340.2 925.9L335.2 923.4L333.5 928.4L331.0 931.7L326.0 930.9L323.5 934.2L320.2 934.2L315.2 931.7L308.5 932.6L305.2 927.6L300.2 924.2L295.2 920.1L292.7 915.0L291.8 908.4L292.7 905.9L288.5 900.9L284.3 895.9L281.8 890.0L280.2 884.2L282.7 878.3L282.7 874.2"/>
<path d="M308.5 902.5L311.0 904.2L311.9 908.4"/>
<path d="M306.1 917.5a4.1 4.1 0 1 0 8.2 0a4.1 4.1 0 1 0 -8.2 0zM309.9 920.9a2.8 2.8 0 1 0 5.6 0a2.8 2.8 0 1 0 -5.6 0zM319.9 900.0a2.0 2.0 0 1 0 3.9 0a2.0 2.0 0 1 0 -3.9 0zM323.4 902.5a1.8 1.8 0 1 0 3.6 0a1.8 1.8 0 1 0 -3.6 0zM327.4 905.4a2.0 2.0 0 1 0 3.9 0a2.0 2.0 0 1 0 -3.9 0zM293.2 910.0a2.8 2.8 0 1 0 5.6 0a2.8 2.8 0 1 0 -5.6 0zM334.1 920.9a4.5 4.5 0 1 0 8.9 0a4.5 4.5 0 1 0 -8.9 0zM338.8 924.2a3.1 3.1 0 1 0 6.2 0a3.1 3.1 0 1 0 -6.2 0zM326.4 926.7a3.8 3.8 0 1 0 7.6 0a3.8 3.8 0 1 0 -7.6 0zM324.1 929.2a2.8 2.8 0 1 0 5.6 0a2.8 2.8 0 1 0 -5.6 0zM305.7 929.2a2.8 2.8 0 1 0 5.6 0a2.8 2.8 0 1 0 -5.6 0zM282.2 874.2a2.1 2.1 0 1 0 4.2 0a2.1 2.1 0 1 0 -4.2 0zM320.9 886.7a1.8 1.8 0 1 0 3.6 0a1.8 1.8 0 1 0 -3.6 0zM316.9 888.0a1.6 1.6 0 1 0 3.2 0a1.6 1.6 0 1 0 -3.2 0z" fill="#4d4d4d" stroke="none"/>
<path d="M810.1 760.9L818.5 759.2L817.6 764.2L824.3 767.5L831.8 770.9L839.3 774.2L843.5 777.5L846.8 783.4L847.7 788.4L851.0 794.2L853.5 799.2L857.7 804.2L861.8 803.4L860.2 797.5L862.7 791.7L866.0 795.0L866.8 800.9L871.0 802.6L871.8 808.4L873.5 815.1L876.8 820.1L883.5 822.6L890.2 825.1L896.9 826.7L901.9 825.9L906.9 821.7L911.9 818.4L918.5 818.4L923.2 821.7L920.2 826.7L919.4 834.2L915.2 838.4L911.0 840.9L911.9 846.8L910.2 850.9L907.7 846.8L900.2 847.6L893.5 850.9L891.0 855.1L895.2 858.4L892.7 864.3L890.2 869.3L886.0 873.4L881.9 877.6L878.5 882.6L875.2 887.6L868.5 892.6L860.2 896.0L858.5 891.8L860.2 887.6L855.2 889.3L850.2 891.0L848.5 888.5L852.7 885.1L855.2 880.1L859.3 875.9L859.3 870.1L856.8 865.1L851.8 861.8L845.2 859.3L838.5 856.8L832.6 854.3L831.8 850.1L836.8 846.8L843.5 845.1L847.7 841.8L849.3 835.1L851.0 828.4L851.8 821.7L850.2 815.1L847.7 810.1L844.3 805.1L841.0 800.1L836.8 795.0L833.5 790.0L828.5 785.0L824.3 780.9L820.1 776.7L818.5 773.4L821.0 771.7L817.6 766.7L813.5 763.4L810.1 760.9"/>
<path d="M869.3 840.9L872.7 839.2L876.0 840.9L875.2 843.4L871.0 844.8L869.3 840.9"/>
<path d="M866.0 825.9L867.7 828.4L868.5 831.7"/>
<path d="M708.4 956.8L715.0 951.8L723.4 946.8L730.1 941.0L738.4 938.5L746.7 934.3L755.1 930.2L763.4 925.2L771.8 921.8L778.4 916.8L783.4 911.8L785.9 905.1L788.4 898.5L795.1 896.0L800.1 890.1L801.8 883.5L805.1 876.8L811.0 874.3L818.5 875.1L816.0 878.4L820.1 881.8L818.5 886.8L823.5 887.6L828.5 885.1L833.5 882.6L835.1 878.4L840.2 881.8L844.3 886.8L841.0 891.8L839.3 896.8L841.8 899.3L836.8 902.6L833.5 907.6L828.5 911.8L825.1 917.6L820.1 921.8L814.3 924.3L811.8 928.5L812.6 933.5L818.5 934.3L821.0 936.8L816.0 938.5L808.5 937.7L801.8 938.5L795.1 940.2L788.4 942.7L785.1 948.5L783.4 953.5L782.6 958.0"/>
<path d="M1008.6 937.7L1015.3 936.0L1022.0 935.5L1018.6 939.3L1013.6 943.5L1011.1 940.2L1008.6 937.7"/>
<path d="M837.4 795.0a4.5 4.5 0 1 0 8.9 0a4.5 4.5 0 1 0 -8.9 0zM841.4 800.1a3.8 3.8 0 1 0 7.6 0a3.8 3.8 0 1 0 -7.6 0zM847.0 806.7a4.8 4.8 0 1 0 9.6 0a4.8 4.8 0 1 0 -9.6 0zM847.2 798.4a3.0 3.0 0 1 0 5.9 0a3.0 3.0 0 1 0 -5.9 0zM841.5 785.0a2.8 2.8 0 1 0 5.6 0a2.8 2.8 0 1 0 -5.6 0zM861.9 800.1a2.5 2.5 0 1 0 4.9 0a2.5 2.5 0 1 0 -4.9 0zM863.1 805.1a2.1 2.1 0 1 0 4.2 0a2.1 2.1 0 1 0 -4.2 0zM853.7 804.2a3.1 3.1 0 1 0 6.2 0a3.1 3.1 0 1 0 -6.2 0zM860.7 792.5a2.8 2.8 0 1 0 5.6 0a2.8 2.8 0 1 0 -5.6 0zM855.2 793.4a1.6 1.6 0 1 0 3.2 0a1.6 1.6 0 1 0 -3.2 0zM877.6 813.9a1.8 1.8 0 1 0 3.6 0a1.8 1.8 0 1 0 -3.6 0zM856.2 817.2a1.5 1.5 0 1 0 2.9 0a1.5 1.5 0 1 0 -2.9 0zM867.1 847.6a1.5 1.5 0 1 0 2.9 0a1.5 1.5 0 1 0 -2.9 0zM879.4 829.2a2.5 2.5 0 1 0 4.9 0a2.5 2.5 0 1 0 -4.9 0zM882.6 831.4a1.8 1.8 0 1 0 3.6 0a1.8 1.8 0 1 0 -3.6 0zM892.7 842.1a2.1 2.1 0 1 0 4.2 0a2.1 2.1 0 1 0 -4.2 0zM908.1 849.3a2.1 2.1 0 1 0 4.2 0a2.1 2.1 0 1 0 -4.2 0zM851.4 826.7a2.1 2.1 0 1 0 4.2 0a2.1 2.1 0 1 0 -4.2 0zM812.7 760.9a2.5 2.5 0 1 0 4.9 0a2.5 2.5 0 1 0 -4.9 0zM831.4 885.1a5.5 5.5 0 1 0 10.9 0a5.5 5.5 0 1 0 -10.9 0zM830.7 880.1a2.8 2.8 0 1 0 5.6 0a2.8 2.8 0 1 0 -5.6 0zM837.5 886.8a3.5 3.5 0 1 0 6.9 0a3.5 3.5 0 1 0 -6.9 0zM809.3 900.1a1.6 1.6 0 1 0 3.2 0a1.6 1.6 0 1 0 -3.2 0zM813.2 900.1a1.6 1.6 0 1 0 3.2 0a1.6 1.6 0 1 0 -3.2 0zM786.3 914.8a1.8 1.8 0 1 0 3.6 0a1.8 1.8 0 1 0 -3.6 0zM781.0 918.8a1.6 1.6 0 1 0 3.2 0a1.6 1.6 0 1 0 -3.2 0zM1012.5 939.3a2.8 2.8 0 1 0 5.6 0a2.8 2.8 0 1 0 -5.6 0zM1019.2 946.3a2.0 2.0 0 1 0 3.9 0a2.0 2.0 0 1 0 -3.9 0zM849.0 887.6a2.8 2.8 0 1 0 5.6 0a2.8 2.8 0 1 0 -5.6 0zM823.4 778.4a1.8 1.8 0 1 0 3.6 0a1.8 1.8 0 1 0 -3.6 0z" fill="#4d4d4d" stroke="none"/>
<path d="M790.2 900.0L786.8 906.7L783.5 912.5L778.5 917.5L773.5 921.7L766.8 925.0L760.1 929.2L751.8 932.5L743.5 935.9L736.8 939.2L730.1 940.9L724.3 945.0L718.4 950.0L713.4 953.4L706.8 958.4L701.8 964.2L697.6 970.1L693.4 974.2L692.6 978.4L696.7 982.6L703.4 983.4L710.1 983.4L715.1 981.7L718.4 985.1L725.1 985.9L730.1 988.4L735.1 990.1L741.8 991.4L750.1 990.1L756.8 986.7L761.8 982.6L766.8 978.4L773.5 975.1L775.1 971.7L776.8 966.7L779.3 961.7L781.0 956.7L783.5 950.9L786.8 945.9L793.5 941.7L801.8 939.2L810.2 937.5L816.8 935.9L820.2 935.9L818.5 932.5L813.5 931.7L811.8 927.5L815.2 923.4L821.9 920.9L825.2 915.8L827.7 911.7L831.9 907.5L836.9 903.3L840.2 900.0"/>
<path d="M716.8 991.7L723.4 990.9L728.4 996.7L726.8 1000.1L720.1 1000.9L712.6 1003.4L714.3 998.4L716.8 991.7"/>
<path d="M730.1 953.4L731.8 960.1L736.8 961.7L738.4 965.9"/>
<path d="M741.8 948.4L745.1 953.4L750.1 948.4"/>
<path d="M745.1 946.7L746.8 951.7"/>
<path d="M758.5 940.0L760.1 946.7L765.1 950.0"/>
<path d="M765.1 935.0L763.5 943.4"/>
<path d="M771.8 931.7L766.8 945.0"/>
<path d="M775.1 930.0L780.2 935.0L783.5 935.9"/>
<path d="M788.5 926.7L791.8 930.9"/>
<path d="M793.5 933.4L800.2 937.5"/>
<path d="M785.2 940.9L790.2 943.4"/>
<path d="M701.8 964.2L706.8 962.6L713.4 958.4L720.1 956.7L722.6 959.2L716.8 965.1L713.4 970.1L710.1 973.4"/>
<path d="M700.1 973.4L706.8 970.1L711.8 965.9L716.8 960.9"/>
<path d="M698.4 978.4L705.1 976.7L711.8 978.4L715.1 975.9"/>
<path d="M733.4 943.4L736.8 945.0"/>
<path d="M743.5 939.2L747.6 940.0"/>
<path d="M786.7 915.0a1.8 1.8 0 1 0 3.6 0a1.8 1.8 0 1 0 -3.6 0zM781.0 918.7a1.6 1.6 0 1 0 3.2 0a1.6 1.6 0 1 0 -3.2 0zM732.7 952.5a1.6 1.6 0 1 0 3.2 0a1.6 1.6 0 1 0 -3.2 0zM758.2 976.2a2.0 2.0 0 1 0 3.9 0a2.0 2.0 0 1 0 -3.9 0zM770.7 975.1a2.8 2.8 0 1 0 5.6 0a2.8 2.8 0 1 0 -5.6 0zM730.8 992.9a1.8 1.8 0 1 0 3.6 0a1.8 1.8 0 1 0 -3.6 0zM811.9 936.2a4.1 4.1 0 1 0 8.2 0a4.1 4.1 0 1 0 -8.2 0zM685.8 1065.1a2.6 2.6 0 1 0 5.2 0a2.6 2.6 0 1 0 -5.2 0zM683.0 1069.8a4.1 4.1 0 1 0 8.2 0a4.1 4.1 0 1 0 -8.2 0zM742.0 1102.5a2.8 2.8 0 1 0 5.6 0a2.8 2.8 0 1 0 -5.6 0zM925.3 1048.3a2.0 2.0 0 1 0 3.9 0a2.0 2.0 0 1 0 -3.9 0zM693.1 976.7a4.5 4.5 0 1 0 8.9 0a4.5 4.5 0 1 0 -8.9 0zM699.6 970.1a3.8 3.8 0 1 0 7.6 0a3.8 3.8 0 1 0 -7.6 0zM705.6 978.4a2.8 2.8 0 1 0 5.6 0a2.8 2.8 0 1 0 -5.6 0zM712.0 965.9a3.1 3.1 0 1 0 6.2 0a3.1 3.1 0 1 0 -6.2 0zM716.8 995.9a4.1 4.1 0 1 0 8.2 0a4.1 4.1 0 1 0 -8.2 0z" fill="#4d4d4d" stroke="none"/>
<path d="M642.6 486.8L650.1 488.5L658.4 495.1L668.4 501.8L675.1 508.5L681.8 513.5L690.1 518.5L696.8 523.5L701.8 527.7L703.5 531.0L698.4 532.7L691.8 528.5L685.1 525.2L676.8 520.2L668.4 515.2L661.8 508.5L655.1 500.1L648.4 492.6L642.6 486.8"/>
<path d="M639.2 478.5L641.7 482.6"/>
<path d="M699.3 395.9L705.1 394.2L707.6 400.1L705.1 405.1L700.1 405.1L697.6 400.1L699.3 395.9"/>
<path d="M707.6 410.9L711.8 413.4L718.5 420.9L713.5 422.1L709.3 416.7L707.6 410.9"/>
<path d="M725.1 390.9L726.0 396.7L726.8 401.7"/>
<path d="M717.6 401.4L720.1 402.1"/>
<path d="M695.1 355.9L698.4 363.4"/>
<path d="M727.6 439.3L733.5 443.4L731.0 445.9L726.8 444.3L727.6 439.3"/>
<path d="M742.7 461.8L746.8 463.4L747.7 467.6L744.3 466.8L742.7 461.8"/>
<path d="M704.5 501.8a3.1 3.1 0 1 0 6.2 0a3.1 3.1 0 1 0 -6.2 0zM707.7 507.6a2.5 2.5 0 1 0 4.9 0a2.5 2.5 0 1 0 -4.9 0zM718.2 508.5a1.5 1.5 0 1 0 2.9 0a1.5 1.5 0 1 0 -2.9 0zM719.5 515.2a3.1 3.1 0 1 0 6.2 0a3.1 3.1 0 1 0 -6.2 0zM711.0 536.8a2.1 2.1 0 1 0 4.2 0a2.1 2.1 0 1 0 -4.2 0zM721.9 415.9a2.5 2.5 0 1 0 4.9 0a2.5 2.5 0 1 0 -4.9 0zM725.0 423.4a1.8 1.8 0 1 0 3.6 0a1.8 1.8 0 1 0 -3.6 0zM728.4 430.1a1.8 1.8 0 1 0 3.6 0a1.8 1.8 0 1 0 -3.6 0zM745.7 476.8a2.8 2.8 0 1 0 5.6 0a2.8 2.8 0 1 0 -5.6 0zM754.5 490.6a2.0 2.0 0 1 0 3.9 0a2.0 2.0 0 1 0 -3.9 0zM711.0 378.4a2.5 2.5 0 1 0 4.9 0a2.5 2.5 0 1 0 -4.9 0zM714.2 370.0a1.8 1.8 0 1 0 3.6 0a1.8 1.8 0 1 0 -3.6 0zM722.5 381.4a1.5 1.5 0 1 0 2.9 0a1.5 1.5 0 1 0 -2.9 0zM577.9 331.7a2.1 2.1 0 1 0 4.2 0a2.1 2.1 0 1 0 -4.2 0zM699.7 330.0a2.1 2.1 0 1 0 4.2 0a2.1 2.1 0 1 0 -4.2 0zM698.2 529.3a2.8 2.8 0 1 0 5.6 0a2.8 2.8 0 1 0 -5.6 0z" fill="#4d4d4d" stroke="none"/>
<path d="M896.7 447.5L899.2 441.7L904.2 438.4L909.2 437.1L915.9 435.9L920.0 439.2L923.4 442.5L926.7 443.4L925.0 446.7L925.0 450.0L921.7 452.5L915.9 454.2L910.0 455.0L904.2 453.4L899.2 451.7L896.7 447.5"/>
<path d="M916.7 427.1L921.7 422.9L928.4 420.4L936.7 417.5L943.4 415.0L949.2 415.0L950.9 419.2L950.9 425.0L949.2 430.9L946.7 427.5L941.7 426.7L936.7 426.7L931.7 428.4L926.7 430.9L923.4 428.4L920.9 425.9L916.7 427.1"/>
<path d="M943.4 420.9L946.7 419.2L949.2 420.9L948.4 425.0L945.1 425.0L943.4 420.9"/>
<path d="M945.9 422.5L948.4 422.5"/>
<path d="M895.0 436.3L899.2 430.9L904.6 424.6"/>
<path d="M910.9 470.9L916.7 468.0L922.5 466.3"/>
<path d="M911.7 471.3L917.5 469.2L922.1 467.1"/>
<path d="M935.8 436.3a2.5 2.5 0 1 0 5.1 0a2.5 2.5 0 1 0 -5.1 0zM924.6 443.4a2.5 2.5 0 1 0 5.1 0a2.5 2.5 0 1 0 -5.1 0zM929.8 441.7a1.5 1.5 0 1 0 2.9 0a1.5 1.5 0 1 0 -2.9 0zM932.8 445.5a1.5 1.5 0 1 0 2.9 0a1.5 1.5 0 1 0 -2.9 0zM937.5 445.5a1.7 1.7 0 1 0 3.4 0a1.7 1.7 0 1 0 -3.4 0zM934.4 449.6a2.3 2.3 0 1 0 4.6 0a2.3 2.3 0 1 0 -4.6 0zM912.7 456.7a2.0 2.0 0 1 0 3.9 0a2.0 2.0 0 1 0 -3.9 0zM903.1 459.6a2.0 2.0 0 1 0 3.9 0a2.0 2.0 0 1 0 -3.9 0zM895.0 444.2a1.3 1.3 0 1 0 2.6 0a1.3 1.3 0 1 0 -2.6 0zM946.1 460.7a2.1 2.1 0 1 0 4.2 0a2.1 2.1 0 1 0 -4.2 0zM951.0 467.1a2.0 2.0 0 1 0 3.9 0a2.0 2.0 0 1 0 -3.9 0zM943.7 471.1a1.8 1.8 0 1 0 3.6 0a1.8 1.8 0 1 0 -3.6 0zM966.3 434.2a2.5 2.5 0 1 0 5.1 0a2.5 2.5 0 1 0 -5.1 0zM964.3 438.4a1.6 1.6 0 1 0 3.2 0a1.6 1.6 0 1 0 -3.2 0zM970.8 443.2a1.6 1.6 0 1 0 3.2 0a1.6 1.6 0 1 0 -3.2 0zM966.0 448.8a1.6 1.6 0 1 0 3.2 0a1.6 1.6 0 1 0 -3.2 0zM971.0 453.4a2.0 2.0 0 1 0 3.9 0a2.0 2.0 0 1 0 -3.9 0zM977.0 461.6a1.5 1.5 0 1 0 2.9 0a1.5 1.5 0 1 0 -2.9 0zM974.3 465.2a1.6 1.6 0 1 0 3.2 0a1.6 1.6 0 1 0 -3.2 0zM975.4 470.9a1.8 1.8 0 1 0 3.6 0a1.8 1.8 0 1 0 -3.6 0zM977.9 471.1a1.8 1.8 0 1 0 3.6 0a1.8 1.8 0 1 0 -3.6 0zM1030.5 403.9a2.0 2.0 0 1 0 3.9 0a2.0 2.0 0 1 0 -3.9 0zM1066.5 410.7a1.6 1.6 0 1 0 3.2 0a1.6 1.6 0 1 0 -3.2 0zM1061.0 461.3a2.5 2.5 0 1 0 5.1 0a2.5 2.5 0 1 0 -5.1 0zM1049.2 464.4a1.8 1.8 0 1 0 3.6 0a1.8 1.8 0 1 0 -3.6 0zM1040.9 482.2a2.1 2.1 0 1 0 4.2 0a2.1 2.1 0 1 0 -4.2 0zM1055.1 482.6a2.1 2.1 0 1 0 4.2 0a2.1 2.1 0 1 0 -4.2 0zM1038.0 507.6a3.0 3.0 0 1 0 5.9 0a3.0 3.0 0 1 0 -5.9 0zM942.5 423.8a4.2 4.2 0 1 0 8.4 0a4.2 4.2 0 1 0 -8.4 0zM915.6 426.7a2.0 2.0 0 1 0 3.9 0a2.0 2.0 0 1 0 -3.9 0z" fill="#4d4d4d" stroke="none"/>
<path d="M100.0 340.9L105.8 340.0L111.7 336.7L118.4 335.0L123.4 333.3L128.4 330.8L130.9 330.8L130.0 335.0L133.4 337.5L135.0 340.9L136.7 343.4L133.4 344.2L130.0 347.5L128.4 350.9"/>
<path d="M118.4 360.0L115.9 361.7L114.2 366.7L112.9 373.4L110.0 385.1L107.5 390.1L112.5 390.9"/>
<path d="M124.2 370.0L130.0 367.5L135.0 369.2L136.7 373.4L135.9 378.4L130.9 380.1L125.0 378.4L123.4 374.2L124.2 370.0"/>
<path d="M111.2 336.7a3.8 3.8 0 1 0 7.6 0a3.8 3.8 0 1 0 -7.6 0zM119.6 334.2a3.0 3.0 0 1 0 5.9 0a3.0 3.0 0 1 0 -5.9 0zM117.1 339.2a3.0 3.0 0 1 0 5.9 0a3.0 3.0 0 1 0 -5.9 0zM126.2 370.0a3.8 3.8 0 1 0 7.6 0a3.8 3.8 0 1 0 -7.6 0zM225.9 348.4a2.5 2.5 0 1 0 5.1 0a2.5 2.5 0 1 0 -5.1 0zM131.2 406.7a3.8 3.8 0 1 0 7.6 0a3.8 3.8 0 1 0 -7.6 0zM128.7 404.2a3.0 3.0 0 1 0 5.9 0a3.0 3.0 0 1 0 -5.9 0z" fill="#4d4d4d" stroke="none"/>
<path d="M1700.3 275.2L1706.3 275.2L1705.7 279.2L1701.0 278.8L1700.3 275.2"/>
<path d="M1722.0 292.8L1728.7 292.2L1727.0 297.5L1723.0 296.8L1722.0 292.8"/>
<path d="M1525.2 440.3L1530.2 441.0L1529.5 445.0L1525.5 444.3L1525.2 440.3"/>
<path d="M1598.6 412.3L1601.9 416.9"/>
<path d="M1608.9 406.9L1610.9 410.9"/>
<path d="M1686.3 449.6L1691.0 453.0"/>
<path d="M1690.3 445.6L1693.6 443.6"/>
<path d="M1760.4 454.0L1763.7 456.0"/>
<path d="M1772.4 458.0L1776.4 460.0"/>
<path d="M1606.2 386.9L1608.9 384.2"/>
<path d="M1690.9 260.5a2.1 2.1 0 1 0 4.2 0a2.1 2.1 0 1 0 -4.2 0zM1712.5 277.5a2.1 2.1 0 1 0 4.2 0a2.1 2.1 0 1 0 -4.2 0zM1702.2 286.8a2.5 2.5 0 1 0 4.9 0a2.5 2.5 0 1 0 -4.9 0zM1729.6 307.5a2.1 2.1 0 1 0 4.2 0a2.1 2.1 0 1 0 -4.2 0zM1611.8 381.6a1.8 1.8 0 1 0 3.6 0a1.8 1.8 0 1 0 -3.6 0zM1584.1 414.3a1.8 1.8 0 1 0 3.6 0a1.8 1.8 0 1 0 -3.6 0zM1616.5 406.6a1.5 1.5 0 1 0 2.9 0a1.5 1.5 0 1 0 -2.9 0zM1701.9 411.3a1.8 1.8 0 1 0 3.6 0a1.8 1.8 0 1 0 -3.6 0z" fill="#4d4d4d" stroke="none"/>
<path d="M1525.1 551.0a1.8 1.8 0 1 0 3.6 0a1.8 1.8 0 1 0 -3.6 0zM1559.7 560.4a1.5 1.5 0 1 0 2.9 0a1.5 1.5 0 1 0 -2.9 0zM1622.1 631.1a1.8 1.8 0 1 0 3.6 0a1.8 1.8 0 1 0 -3.6 0zM1799.3 545.7a1.8 1.8 0 1 0 3.6 0a1.8 1.8 0 1 0 -3.6 0zM1925.4 569.7a1.8 1.8 0 1 0 3.6 0a1.8 1.8 0 1 0 -3.6 0z" fill="#4d4d4d" stroke="none"/>
<path d="M987.0 662.4a2.0 2.0 0 1 0 3.9 0a2.0 2.0 0 1 0 -3.9 0z" fill="#4d4d4d" stroke="none"/>
<path d="M719.8 657.8a1.8 1.8 0 1 0 3.6 0a1.8 1.8 0 1 0 -3.6 0zM552.0 705.1a1.8 1.8 0 1 0 3.6 0a1.8 1.8 0 1 0 -3.6 0z" fill="#4d4d4d" stroke="none"/>
</g>
<g class="g">
<path d="M194 109.5V1243.1"/>
<path d="M572 109.5V1243.1"/>
<path d="M950 109.5V1243.1"/>
<path d="M1328 109.5V1243.1"/>
<path d="M1706 109.5V1243.1"/>
<path d="M99.5 298H2084.5"/>
<path d="M99.5 487H2084.5"/>
<path d="M99.5 676H2084.5"/>
<path d="M99.5 865H2084.5"/>
<path d="M99.5 1054H2084.5"/>
</g>
<path class="k" d="M762.2 334.2L751.3 345.5L740.1 344.2L722.6 335.1L722.6 346.7L726.7 355.1L733.4 363.4L740.1 371.8L745.2 378.4L751.8 386.7L763.5 398.4L781.9 413.4L806.9 428.4L826.9 435.9L847.7 435.9" stroke="#1f77b4"/>
<path class="k" d="M828.5 297.1L811.8 305.9L775.9 320.9L760.9 326.3L748.8 331.7L738.4 337.6L729.2 346.7L719.2 356.7L711.7 364.2L705.0 371.3L701.8 380.0L697.6 390.9L689.3 405.1L687.6 413.4L685.9 425.9L685.1 440.1L685.9 456.8L689.3 471.8L693.4 485.1L696.8 496.8L699.3 506.8L701.0 515.2L695.9 522.5L690.1 525.9L686.7 530.9L675.9 536.3L664.2 538.0L653.4 528.0L646.7 540.5L664.2 538.0L670.1 563.4L677.6 596.7L704.3 666.7L756.8 787.7L792.6 874.3L906.5 950.2" stroke="#ff7f0e"/>
<path class="k" d="M1006.8 241.4L987.6 260.0L968.4 275.0L950.1 286.7L936.7 294.2L923.4 305.9L910.1 316.7L902.6 323.4L895.0 329.3L888.4 335.1L884.2 341.8L886.7 351.8L893.4 358.4L901.7 364.3L914.2 371.0L930.9 377.6L944.3 380.1L956.8 379.3L970.1 376.8L981.8 378.5L986.8 381.0L983.5 384.3L971.8 380.1L961.8 385.1L956.8 393.5L953.4 403.5L952.6 413.5L955.1 425.0L960.1 440.0L966.8 455.0L973.4 470.1L978.4 485.1L983.5 500.1L988.5 515.1L993.5 528.4L998.5 541.8L1001.0 555.1L998.5 565.1L996.0 575.1L981.8 583.5L968.4 598.5L953.6 628.4L942.8 650.1L931.1 655.1L915.3 659.2L900.3 665.1" stroke="#2ca02c"/>
<path class="k" d="M1221.7 354.6L1233.4 354.6L1242.6 356.7L1249.2 360.9L1260.1 364.6L1267.6 373.4L1267.6 385.9L1265.9 395.1L1263.8 403.4L1263.8 411.7L1263.8 420.1L1264.3 423.4L1268.5 431.7L1275.1 437.5L1285.2 440.1L1296.8 442.6L1306.8 439.2L1308.5 431.7L1301.8 425.9L1295.2 430.0L1294.3 437.5L1297.7 446.7L1300.2 456.7L1306.8 466.7L1313.5 480.1L1320.2 493.4L1330.2 505.1L1340.2 518.4L1353.5 533.5L1373.6 548.5L1393.6 561.8L1423.6 575.2L1450.3 583.5L1483.0 590.9L1524.7 604.2L1565.9 619.2L1606.0 644.2L1649.3 694.3L1686.9 751.8" stroke="#d62728"/>
<path class="k" d="M1080.2 283.1L1098.5 280.1L1108.6 282.6L1120.2 288.4L1131.1 295.9L1131.1 350.1L1135.2 370.1L1145.3 388.5L1156.9 405.2L1166.9 420.2L1181.7 443.4L1193.4 461.7L1205.1 478.4L1223.4 491.8L1238.4 506.8L1255.1 521.8L1263.5 531.8L1280.2 540.1L1296.8 553.5L1308.5 565.2L1315.2 580.2L1316.0 591.7L1311.8 601.7L1301.8 610.1L1282.7 613.4L1261.8 615.9L1242.6 617.6L1229.3 619.2L1205.1 620.9L1180.1 622.6L1157.5 628.4L1140.9 645.9L1139.2 666.8L1139.2 686.8" stroke="#9467bd"/>
<path class="k" d="M184.7 339.6L172.1 339.6L173.4 343.8L176.3 346.7L167.6 345.0L156.7 346.7L145.0 350.4L138.4 355.0L132.5 360.0L125.0 362.5L117.9 365.5L112.9 374.2L103.8 388.4" stroke="#8c564b"/>
<path class="k" d="M582.5 354.6L598.4 355.4L609.2 357.5L620.9 358.8L628.4 361.7L639.2 365.9L651.7 374.2L657.6 382.5L665.9 391.7L674.3 399.2L682.6 406.7L689.3 414.2L695.1 421.7L706.8 429.2L715.1 437.6L716.8 443.4L726.8 453.4L736.8 461.8L745.2 470.1L753.5 477.6L765.2 486.0L775.2 492.6L791.0 503.5L815.2 512.7L836.1 515.2L817.7 468.4L840.2 483.5L854.4 502.6L883.6 511.0L898.6 526.0L908.6 543.5L921.7 556.0L950.1 571.8L970.9 574.3" stroke="#e377c2"/>
<path class="k" d="M248.9 335.4L237.6 335.4L234.3 340.9L225.1 344.2L209.3 346.7L187.6 346.7L178.4 351.7L165.9 355.9L152.5 361.7L146.7 362.5L140.0 360.0L135.0 355.9L132.9 351.3L131.7 354.2L123.4 354.6L117.9 347.1L120.9 353.4L122.5 363.4L125.0 373.0L142.5 373.4L153.4 376.7L158.4 391.7L170.1 400.1L183.4 408.4L189.2 420.1L190.1 421.8L190.9 443.5L190.1 460.1L188.4 473.5L184.2 486.8L182.6 508.5" stroke="#7f7f7f"/>
<path class="k" d="M598.4 355.0L628.4 354.2L665.9 370.0L683.4 376.3L700.9 387.5L724.3 400.9L741.8 410.5L779.3 443.4L817.7 468.4L840.2 483.5L854.4 502.6L883.6 511.0L898.6 526.0L908.6 543.5L909.2 545.1" stroke="#bcbd22"/>
<path class="k" d="M860.9 345.4L1021.8 345.4L1054.3 347.6L1081.9 349.3L1108.6 351.8L1133.6 356.8L1153.6 365.1L1176.9 378.5L1190.3 398.5L1199.5 419.3L1208.4 440.9L1216.8 460.1L1224.3 479.2L1228.4 496.8L1235.1 511.8L1241.8 521.8L1250.1 538.5L1263.5 555.1L1280.2 571.8L1295.2 583.5L1315.2 598.4L1336.9 611.7L1365.2 626.7L1396.1 638.4L1436.9 656.8L1470.3 667.6L1511.7 678.4L1547.6 685.1L1592.6 693.1L1631.8 694.8" stroke="#17becf"/>
<path class="k" d="M1357.7 523.5L1383.6 556.8L1411.1 590.2L1443.6 629.2L1497.5 675.9L1592.6 716.0L1706.1 723.1" stroke="#1f77b4"/>
<path class="k" d="M1301.0 420.9L1315.2 447.6L1324.4 466.7L1336.9 486.8L1357.7 523.5" stroke="#ff7f0e"/>
<path class="k" d="M666.8 363.4L667.6 378.4L665.9 392.6L656.7 401.7L646.7 411.7L640.9 423.4L637.6 435.1L638.4 446.8L643.4 456.8L650.1 462.6L658.4 469.3" stroke="#2ca02c"/>
<path class="k" d="M108.8 301.3L121.7 294.2L129.2 284.2L155.9 276.7L182.6 275.0L198.0 267.9" stroke="#d62728"/>
<path class="k" d="M1023.5 316.7L1044.3 320.9L1071.0 326.8L1101.1 335.9L1120.2 343.4L1133.6 351.8L1153.6 363.5L1161.9 380.1L1166.9 398.5L1167.8 420.2L1166.7 425.0L1169.2 441.7L1173.4 458.4L1185.1 480.1L1206.8 503.4L1236.8 523.5L1266.8 540.1L1283.5 548.5L1314.3 559.3" stroke="#9467bd"/>
</g>
<rect x="99.5" y="109.5" width="1985" height="1133.6" fill="none" stroke="#000" stroke-width="2.1"/>
<text class="l" transform="translate(79.6 305.5) scale(0.98 1)" text-anchor="end">10°S</text>
<text class="l" transform="translate(79.6 494.5) scale(0.98 1)" text-anchor="end">20°S</text>
<text class="l" transform="translate(79.6 683.5) scale(0.98 1)" text-anchor="end">30°S</text>
<text class="l" transform="translate(79.6 872.5) scale(0.98 1)" text-anchor="end">40°S</text>
<text class="l" transform="translate(79.6 1061.5) scale(0.98 1)" text-anchor="end">50°S</text>
<text class="l" transform="translate(79.6 1250.5) scale(0.98 1)" text-anchor="end">60°S</text>
<text class="l" transform="translate(194.7 1284.6) scale(0.982 1)" text-anchor="middle">140°E</text>
<text class="l" transform="translate(573.5 1284.6) scale(0.982 1)" text-anchor="middle">160°E</text>
<text class="l" transform="translate(950.4 1284.6) scale(0.982 1)" text-anchor="middle">180°</text>
<text class="l" transform="translate(1330.1 1284.6) scale(0.982 1)" text-anchor="middle">160°W</text>
<text class="l" transform="translate(1706.8 1284.6) scale(0.982 1)" text-anchor="middle">140°W</text>
<text class="l" transform="translate(2082 1284.6) scale(0.982 1)" text-anchor="middle">120°W</text>
<rect x="2084.5" y="109.5" width="59.6" height="142.2" fill="#0028ff"/>
<rect x="2084.5" y="251.2" width="59.6" height="142.2" fill="#009cff"/>
<rect x="2084.5" y="392.9" width="59.6" height="142.2" fill="#1fffd7"/>
<rect x="2084.5" y="534.6" width="59.6" height="142.2" fill="#7dff7a"/>
<rect x="2084.5" y="676.3" width="59.6" height="142.2" fill="#d7ff1f"/>
<rect x="2084.5" y="818" width="59.6" height="142.2" fill="#ffb200"/>
<rect x="2084.5" y="959.7" width="59.6" height="142.2" fill="#ff4700"/>
<rect x="2084.5" y="1101.4" width="59.6" height="142.2" fill="#bf0000"/>
<path d="M2084.5 251.2H2144.1" stroke="#111" stroke-width="1.1" fill="none"/>
<path d="M2084.5 392.9H2144.1" stroke="#111" stroke-width="1.1" fill="none"/>
<path d="M2084.5 534.6H2144.1" stroke="#111" stroke-width="1.1" fill="none"/>
<path d="M2084.5 676.3H2144.1" stroke="#111" stroke-width="1.1" fill="none"/>
<path d="M2084.5 818H2144.1" stroke="#111" stroke-width="1.1" fill="none"/>
<path d="M2084.5 959.7H2144.1" stroke="#111" stroke-width="1.1" fill="none"/>
<path d="M2084.5 1101.4H2144.1" stroke="#111" stroke-width="1.1" fill="none"/>
<rect x="2084.5" y="109.5" width="59.6" height="1133.6" fill="none" stroke="#000" stroke-width="2.1"/>
<path d="M2144.1 109.5H2152.9" stroke="#000" stroke-width="2.1" fill="none"/>
<text class="l" transform="translate(2162.2 120.1) scale(0.965 1)">1000</text>
<path d="M2144.1 251.2H2152.9" stroke="#000" stroke-width="2.1" fill="none"/>
<text class="l" transform="translate(2162.2 261.8) scale(0.965 1)">990</text>
<path d="M2144.1 392.9H2152.9" stroke="#000" stroke-width="2.1" fill="none"/>
<text class="l" transform="translate(2162.2 403.5) scale(0.965 1)">980</text>
<path d="M2144.1 534.6H2152.9" stroke="#000" stroke-width="2.1" fill="none"/>
<text class="l" transform="translate(2162.2 545.2) scale(0.965 1)">970</text>
<path d="M2144.1 676.3H2152.9" stroke="#000" stroke-width="2.1" fill="none"/>
<text class="l" transform="translate(2162.2 686.9) scale(0.965 1)">960</text>
<path d="M2144.1 818H2152.9" stroke="#000" stroke-width="2.1" fill="none"/>
<text class="l" transform="translate(2162.2 828.6) scale(0.965 1)">950</text>
<path d="M2144.1 959.7H2152.9" stroke="#000" stroke-width="2.1" fill="none"/>
<text class="l" transform="translate(2162.2 970.3) scale(0.965 1)">940</text>
<path d="M2144.1 1101.4H2152.9" stroke="#000" stroke-width="2.1" fill="none"/>
<text class="l" transform="translate(2162.2 1112) scale(0.965 1)">930</text>
<path d="M2144.1 1243.1H2152.9" stroke="#000" stroke-width="2.1" fill="none"/>
<text class="l" transform="translate(2162.2 1253.7) scale(0.965 1)">920</text>
<text class="l" transform="translate(2254.6 677.8) rotate(-90) scale(0.996 1)" text-anchor="middle">central pressure (hPa)</text>
</svg>
</body>
</html>
